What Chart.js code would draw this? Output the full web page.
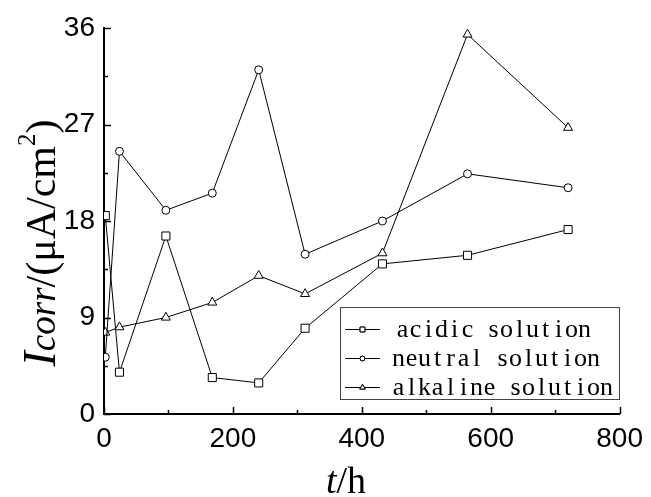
<!DOCTYPE html>
<html>
<head>
<meta charset="utf-8">
<script src="https://cdn.jsdelivr.net/npm/chart.js@4"></script>
<style>
  html, body { margin: 0; padding: 0; background: #fff; }
  #wrap { width: 651px; height: 497px; }
</style>
</head>
<body>
<div id="wrap"><canvas id="chart" width="651" height="497"></canvas></div>
<script>
// immersion time (h)
const hours = [2, 24, 96, 168, 240, 312, 432, 564, 720];
// corrosion current density (μA/cm²)
const acidic = [18.5, 3.9, 16.6, 3.4, 2.9, 8.0, 14.0, 14.8, 17.2];
const neutral = [5.3, 24.5, 19.0, 20.6, 32.1, 14.9, 18.0, 22.4, 21.1];
const alkaline = [7.6, 8.1, 9.0, 10.4, 12.9, 11.2, 15.0, 35.4, 26.7];

const seriesNames = ['acidic solution', 'neutral solution', 'alkaline solution'];
const xTicks = [0, 200, 400, 600, 800];
const yTicks = [0, 9, 18, 27, 36];

const tickFont = { family: '"Liberation Sans", Arial, sans-serif', size: 28 };
const serif = '"Liberation Serif", "Times New Roman", serif';

function pts(vals) {
  return vals.map((v, i) => ({ x: hours[i], y: v }));
}

function makeSet(label, vals, style, radius) {
  return {
    label: label,
    data: pts(vals),
    borderColor: '#000',
    borderWidth: 1,
    pointStyle: style,
    pointRadius: radius,
    pointBackgroundColor: '#fff',
    pointBorderColor: '#000',
    pointBorderWidth: 1,
    fill: false,
    tension: 0
  };
}

// inward ticks, major + minor
const innerTicks = {
  id: 'innerTicks',
  afterDraw(chart) {
    const { ctx, chartArea: a, scales: { x, y } } = chart;
    ctx.save();
    ctx.strokeStyle = '#000';
    ctx.lineWidth = 1.5;
    ctx.beginPath();
    for (let v = 0; v <= 800; v += 100) {
      const px = Math.round(x.getPixelForValue(v)) + 0.5;
      const len = v % 200 === 0 ? 7 : 4;
      ctx.moveTo(px, a.bottom);
      ctx.lineTo(px, a.bottom - len);
    }
    for (let v = 0; v <= 36; v += 4.5) {
      const py = Math.round(y.getPixelForValue(v)) + 0.5;
      const len = v % 9 === 0 ? 7 : 4;
      ctx.moveTo(a.left, py);
      ctx.lineTo(a.left + len, py);
    }
    ctx.stroke();
    ctx.restore();
  }
};

// axis titles with mixed italic / superscript
function drawRuns(ctx, runs, x0) {
  let x = x0;
  runs.forEach(r => {
    ctx.font = r.font;
    ctx.fillText(r.t, x, r.dy || 0);
    x += ctx.measureText(r.t).width;
  });
}
function runsWidth(ctx, runs) {
  let w = 0;
  runs.forEach(r => { ctx.font = r.font; w += ctx.measureText(r.t).width; });
  return w;
}

const axisTitles = {
  id: 'axisTitles',
  afterDraw(chart) {
    const ctx = chart.ctx;
    ctx.save();
    ctx.fillStyle = '#000';
    ctx.textBaseline = 'alphabetic';
    ctx.textAlign = 'left';

    const yRuns = [
      { t: 'I', font: 'italic 46px ' + serif },
      { t: 'corr', font: 'italic 37px ' + serif },
      { t: '/(μA/cm', font: '42px ' + serif },
      { t: '2', font: '25px ' + serif, dy: -20 },
      { t: ')', font: '42px ' + serif }
    ];
    ctx.save();
    ctx.translate(55, 243);
    ctx.rotate(-Math.PI / 2);
    drawRuns(ctx, yRuns, -runsWidth(ctx, yRuns) / 2);
    ctx.restore();

    const xRuns = [
      { t: 't', font: 'italic 38px ' + serif },
      { t: '/h', font: '38px ' + serif }
    ];
    ctx.save();
    ctx.translate(346, 493);
    drawRuns(ctx, xRuns, -runsWidth(ctx, xRuns) / 2);
    ctx.restore();
    ctx.restore();
  }
};

// boxed legend: line–marker–line then label in fixed-width cells
const boxLegend = {
  id: 'boxLegend',
  afterDraw(chart) {
    const ctx = chart.ctx;
    const bx = 340, by = 307, bw = 279, bh = 92;
    ctx.save();
    ctx.fillStyle = '#fff';
    ctx.fillRect(bx, by, bw, bh);
    ctx.strokeStyle = '#444';
    ctx.lineWidth = 1;
    ctx.strokeRect(bx + 0.5, by + 0.5, bw, bh);
    ctx.font = '26px ' + serif;
    ctx.textBaseline = 'alphabetic';
    ctx.textAlign = 'center';
    chart.data.datasets.forEach((ds, i) => {
      const cy = 329 + i * 29;
      ctx.strokeStyle = '#000';
      ctx.lineWidth = 1;
      ctx.beginPath();
      ctx.moveTo(345, cy + 0.5);
      ctx.lineTo(380, cy + 0.5);
      ctx.stroke();
      Chart.helpers.drawPoint(ctx, {
        pointStyle: ds.pointStyle,
        radius: ds.pointRadius * 0.6,
        borderWidth: 1,
        rotation: 0
      }, 362.5, cy + 0.5);
      ctx.fillStyle = '#fff';
      ctx.fill();
      ctx.stroke();
      ctx.fillStyle = '#000';
      const x0 = i === 0 ? 396 : 392;
      const chars = ds.label.split('');
      chars.forEach((c, k) => ctx.fillText(c, x0 + 6.5 + k * 13, cy + 8));
    });
    ctx.restore();
  }
};

new Chart(document.getElementById('chart'), {
  type: 'line',
  data: {
    datasets: [
      makeSet(seriesNames[0], acidic, 'rect', 5.7),
      makeSet(seriesNames[1], neutral, 'circle', 4),
      makeSet(seriesNames[2], alkaline, 'triangle', 5.2)
    ]
  },
  options: {
    responsive: false,
    animation: false,
    devicePixelRatio: 1,
    layout: { padding: { top: 28, right: 27, left: 0, bottom: 0 }, autoPadding: false },
    plugins: { legend: { display: false }, tooltip: { enabled: false } },
    scales: {
      x: {
        type: 'linear',
        min: 0, max: 800,
        afterBuildTicks(s) { s.ticks = xTicks.map(v => ({ value: v })); },
        ticks: { font: tickFont, color: '#000', padding: 8, maxRotation: 0 },
        grid: { display: false, drawTicks: false },
        border: { display: true, color: '#000', width: 2 },
        afterFit(s) { s.height = 83; }
      },
      y: {
        min: 0, max: 36,
        afterBuildTicks(s) { s.ticks = yTicks.map(v => ({ value: v })); },
        ticks: { font: tickFont, color: '#000', padding: 9 },
        grid: { display: false, drawTicks: false },
        border: { display: true, color: '#000', width: 2 },
        afterFit(s) { s.width = 104; }
      }
    }
  },
  plugins: [innerTicks, axisTitles, boxLegend]
});
</script>
</body>
</html>
